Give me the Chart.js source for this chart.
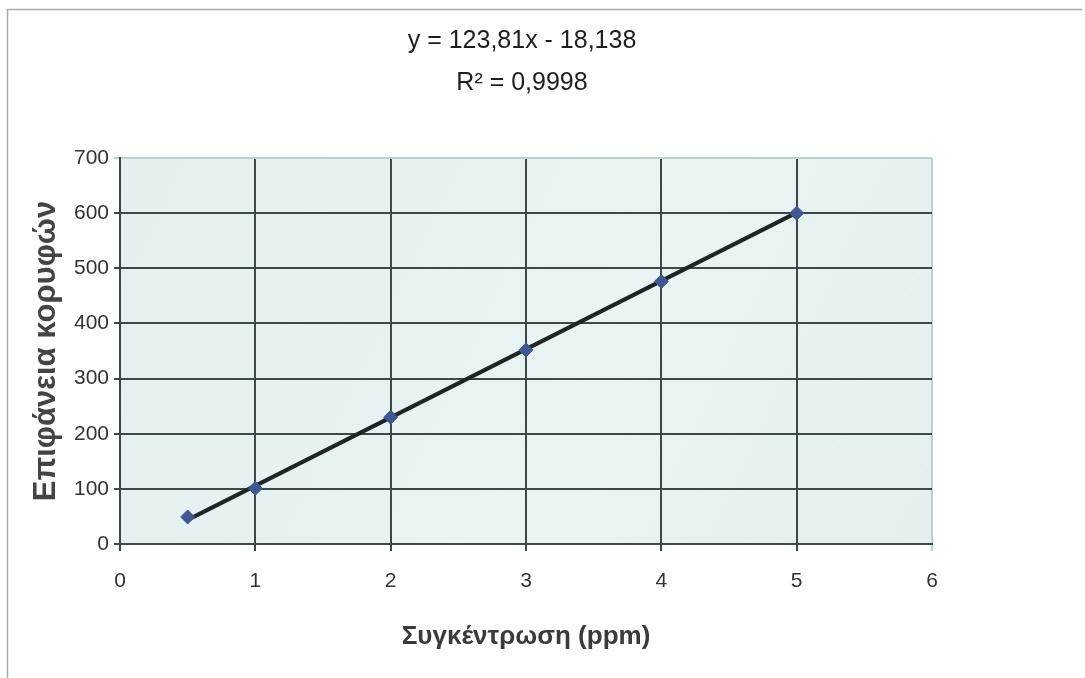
<!DOCTYPE html>
<html>
<head>
<meta charset="utf-8">
<script src="https://cdn.jsdelivr.net/npm/chart.js@4.4.0/dist/chart.umd.min.js"></script>
<style>
  html, body { margin: 0; padding: 0; background: #fff; }
  #wrap { width: 1085px; height: 678px; }
</style>
</head>
<body>
<div id="wrap"><canvas id="calib"></canvas></div>
<script>
// συγκέντρωση (ppm) και επιφάνεια κορυφών
const conc = [0.5, 1, 2, 3, 4, 5];
const area = [49, 101, 230, 352, 476, 600];
// εξίσωση γραμμής τάσης όπως φαίνεται στο διάγραμμα
const slope = 123.81;
const intercept = -18.138;
const r2Label = '0,9998';
const xTicks = [0, 1, 2, 3, 4, 5, 6];
const yTicks = [0, 100, 200, 300, 400, 500, 600, 700];

const gridDark = '#3c4a47';
const gridLight = '#b8d2cf';

const points = conc.map((x, i) => ({ x: x, y: area[i] }));
const xFirst = conc[0];
const xLast = conc[conc.length - 1];
const trend = [
    { x: xFirst, y: slope * xFirst + intercept },
    { x: xLast, y: slope * xLast + intercept }
];

function fmt(v) {
    return String(v).replace('.', ',');
}

// φόντο περιοχής γραφήματος + εξωτερικό πλαίσιο
const plotBg = {
    id: 'plotBg',
    beforeDraw(chart) {
        const { ctx, chartArea: a } = chart;
        ctx.save();
        const g = ctx.createLinearGradient(a.left, a.top, a.right, a.bottom);
        g.addColorStop(0, '#e3f0ef');
        g.addColorStop(0.6, '#e9f4f3');
        g.addColorStop(1, '#e3f0ef');
        ctx.fillStyle = g;
        ctx.fillRect(a.left, a.top, a.right - a.left, a.bottom - a.top);
        ctx.strokeStyle = '#a4aead';
        ctx.lineWidth = 1.5;
        ctx.beginPath();
        ctx.moveTo(7.5, 678);
        ctx.lineTo(7.5, 9.5);
        ctx.lineTo(1082, 9.5);
        ctx.stroke();
        ctx.restore();
    }
};

// εξίσωση και R² πάνω από το γράφημα
const eqLabel = {
    id: 'eqLabel',
    afterDraw(chart) {
        const { ctx, chartArea: a } = chart;
        const cx = (a.left + a.right) / 2 - 4;
        ctx.save();
        ctx.fillStyle = '#1e1e1e';
        ctx.font = "25px 'Liberation Sans', Arial";
        ctx.textAlign = 'center';
        ctx.textBaseline = 'middle';
        ctx.fillText('y = ' + fmt(slope) + 'x - ' + fmt(-intercept), cx, 41);
        ctx.fillText('R² = ' + r2Label, cx, 83);
        ctx.restore();
    }
};

const ctx = document.getElementById('calib').getContext('2d');
new Chart(ctx, {
    type: 'scatter',
    data: {
        datasets: [
            {
                label: 'Επιφάνεια',
                data: points,
                pointStyle: 'rectRot',
                pointRadius: 7,
                pointBackgroundColor: '#3f5792',
                pointBorderColor: '#3f5792',
                showLine: false,
                order: 1
            },
            {
                label: 'Γραμμή τάσης',
                data: trend,
                showLine: true,
                borderColor: '#1d2624',
                borderWidth: 4,
                pointRadius: 0,
                order: 2
            }
        ]
    },
    options: {
        responsive: true,
        maintainAspectRatio: false,
        animation: false,
        layout: { padding: { left: 0, right: 153, top: 158, bottom: 0 } },
        plugins: {
            legend: { display: false },
            tooltip: { enabled: false }
        },
        scales: {
            x: {
                type: 'linear',
                min: 0,
                max: 6,
                afterBuildTicks: (s) => { s.ticks = xTicks.map(v => ({ value: v })); },
                afterFit: (s) => { s.height = 134; },
                ticks: {
                    color: '#333',
                    font: { family: "'Liberation Sans', Arial", size: 21 },
                    padding: 18
                },
                grid: {
                    color: (c) => c.tick && c.tick.value === 6 ? gridLight : gridDark,
                    lineWidth: 2,
                    tickLength: 7
                },
                border: { color: gridDark, width: 2 },
                title: {
                    display: true,
                    text: 'Συγκέντρωση (ppm)',
                    color: '#3a3a3a',
                    font: { family: "'Liberation Sans', Arial", size: 26, weight: 'bold' },
                    padding: { bottom: 26 }
                }
            },
            y: {
                type: 'linear',
                min: 0,
                max: 700,
                afterBuildTicks: (s) => { s.ticks = yTicks.map(v => ({ value: v })); },
                afterFit: (s) => { s.width = 120; },
                ticks: {
                    color: '#333',
                    font: { family: "'Liberation Sans', Arial", size: 21 },
                    padding: 5
                },
                grid: {
                    color: (c) => c.tick && c.tick.value === 700 ? gridLight : gridDark,
                    lineWidth: 2,
                    tickLength: 6
                },
                border: { color: gridDark, width: 2 },
                title: {
                    display: true,
                    text: 'Επιφάνεια κορυφών',
                    color: '#444',
                    font: { family: "'Liberation Sans', Arial", size: 31, weight: 'bold' },
                    padding: { top: 28 }
                }
            }
        }
    },
    plugins: [plotBg, eqLabel]
});
</script>
</body>
</html>
